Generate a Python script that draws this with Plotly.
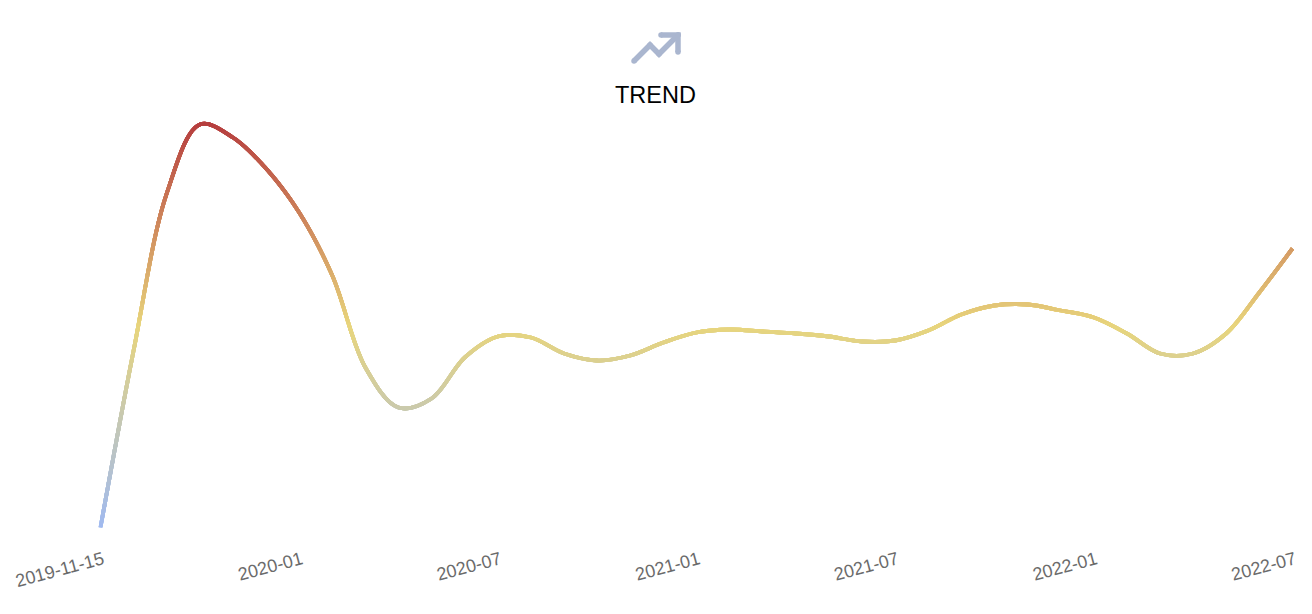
import plotly.graph_objects as go

TICK_INDEX = [0, 6, 12, 18, 24, 30, 36]
TICK_LABELS = ["2019-11-15", "2020-01", "2020-07", "2021-01", "2021-07", "2022-01", "2022-07"]
# (height above the lowest point of the curve)
VALUES = [0, 177, 334, 403, 390, 359, 315, 252, 160, 120, 129, 170, 191, 190, 174, 167, 172,
          185, 195, 198, 196, 194, 191, 186, 187, 197, 213, 222, 223, 217, 210, 194, 174, 174, 194, 235, 279]
POSITIONS = list(range(len(VALUES)))

W, H = 1312, 614
ZERO_PX = 527.5
X0_PX, STEP_PX = 100.5, 33.11
LINE_W = 3.8
BAND_H = 22       # plotly keeps points within 20 axis-lengths of a subplot
BAND_STEP = 4
FIRST_BOTTOM_PX, LAST_BOTTOM_PX = 535, 118

LOW, MID, HIGH = (160, 186, 240), (232, 213, 124), (182, 62, 62)
vmin, vmax = min(VALUES), max(VALUES)


def colour(v):
    t = max(0, min(1, (v - vmin) / (vmax - vmin)))
    a, b, s = (LOW, MID, t * 2) if t < 0.5 else (MID, HIGH, t * 2 - 1)
    return "rgb(" + ",".join(str(round(a[i] + (b[i] - a[i]) * s)) for i in range(3)) + ")"


fig = go.Figure()
layout = dict(
    width=W, height=H, margin=dict(l=0, r=0, t=0, b=0), showlegend=False,
    paper_bgcolor="white", plot_bgcolor="rgba(0,0,0,0)",
    font=dict(family="Liberation Sans"),
    xaxis=dict(domain=[0, 1], range=[-X0_PX / STEP_PX, (W - X0_PX) / STEP_PX], showgrid=False, zeroline=False,
               showline=False, ticks="", tickmode="array", tickvals=[t + 0.07 for t in TICK_INDEX],
               ticktext=TICK_LABELS, tickangle=-15,
               tickfont=dict(size=18, color="#6b6b6b", family="Liberation Sans"),
               ticklabelstandoff=10, automargin=False, anchor="y"),
)

# The same series is drawn once per value band, bottom up; each band's axis clips it and the
# next band paints over all but its lowest strip, giving a value-mapped gradient along the line.
n = 0
bottom = FIRST_BOTTOM_PX
while bottom >= LAST_BOTTOM_PX:
    n += 1
    top = bottom - BAND_H
    name = "y" if n == 1 else f"y{n}"
    key = "yaxis" if n == 1 else f"yaxis{n}"
    layout[key] = dict(domain=[1 - bottom / H, 1 - top / H], range=[ZERO_PX - bottom, ZERO_PX - top],
                       visible=False, anchor="x", fixedrange=True)
    strip_v = ZERO_PX - (bottom - BAND_STEP / 2)
    fig.add_trace(go.Scatter(x=POSITIONS, y=VALUES, yaxis=name, xaxis="x", mode="lines",
                             line=dict(color=colour(strip_v), width=LINE_W, shape="spline",
                                       smoothing=1.0, simplify=False),
                             hoverinfo="skip"))
    bottom -= BAND_STEP

# Icon drawn on a pixel-like overlay axis
ICON_X = [634, 650, 659, 678]
ICON_Y = [61, 45, 54, 35]
HEAD_X = [661, 678, 678]
HEAD_Y = [35, 35, 52]
layout["xaxis2"] = dict(domain=[0, 1], range=[0, W], visible=False, anchor="y500")
layout["yaxis500"] = dict(domain=[0, 1], range=[H, 0], visible=False, anchor="x2")
for xs, ys in ((ICON_X, ICON_Y), (HEAD_X, HEAD_Y)):
    fig.add_trace(go.Scatter(x=xs, y=ys, xaxis="x2", yaxis="y500", mode="lines+markers",
                             line=dict(color="#aab6cf", width=5.5),
                             marker=dict(color="#aab6cf", size=5.5), hoverinfo="skip"))

layout["annotations"] = [dict(text="TREND", xref="paper", yref="paper", x=655 / W, y=1 - 95 / H, showarrow=False,
                              font=dict(size=23.5, color="#000000", family="Liberation Sans"),
                              xanchor="center", yanchor="middle")]
fig.update_layout(**layout)
fig.write_html("out.html", config=dict(displayModeBar=False),
               post_script="document.body.style.margin='0';")
